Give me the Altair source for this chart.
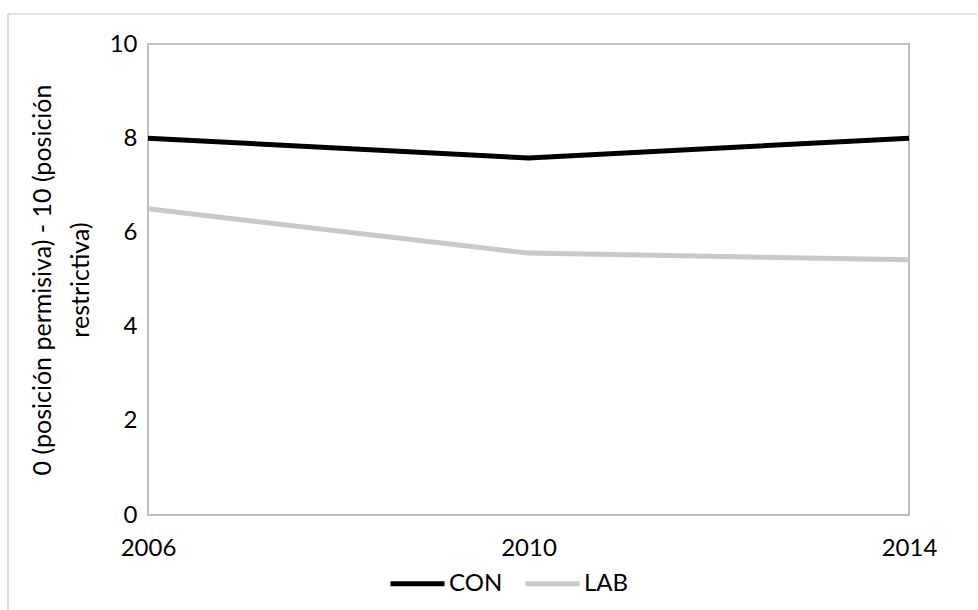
import altair as alt
import pandas as pd

years = ["2006", "2010", "2014"]
con_values = [8.0, 7.58, 8.0]
lab_values = [6.5, 5.56, 5.42]
series_names = ["CON", "LAB"]
series_colors = ["#000000", "#c9c9c9"]
y_ticks = [0, 2, 4, 6, 8, 10]
y_title = ["0 (posición permisiva) - 10 (posición", "restrictiva)"]

rows = []
for name, vals in zip(series_names, [con_values, lab_values]):
    for yr, v in zip(years, vals):
        rows.append({"year": yr, "value": v, "series": name})
df = pd.DataFrame(rows)

FONT = "Lato"

lines = alt.Chart(df).mark_line(strokeWidth=5, strokeJoin="miter", strokeCap="butt").encode(
    x=alt.X("year:O", sort=years,
            scale=alt.Scale(type="point", padding=0),
            axis=alt.Axis(title=None, labelAngle=0, ticks=False, domain=False,
                          labelFontSize=24, labelPadding=21, labelColor="#000000",
                          labelFont=FONT)),
    y=alt.Y("value:Q", scale=alt.Scale(domain=[0, 10]),
            axis=alt.Axis(values=y_ticks, title=y_title, grid=False, ticks=False,
                          domain=False, labelFontSize=24, labelPadding=11,
                          labelColor="#000000", labelFont=FONT,
                          titleFont=FONT, titleFontSize=25, titleFontWeight="normal",
                          titleColor="#000000", titlePadding=16, titleLineHeight=38)),
    color=alt.Color("series:N", sort=series_names,
                    scale=alt.Scale(domain=series_names, range=series_colors),
                    legend=alt.Legend(title=None, orient="none", direction="horizontal",
                                      legendX=240, legendY=510,
                                      symbolType="stroke", symbolSize=2916,
                                      symbolStrokeWidth=5, labelFontSize=24,
                                      labelFont=FONT, labelColor="#000000",
                                      labelOffset=2, columnPadding=12)),
)

one = pd.DataFrame({"a": [0]})
frame_left = alt.Chart(one).mark_rule(color="#d9d9d9", strokeWidth=2).encode(
    x=alt.value(-140), y=alt.value(-30), y2=alt.value(600))
frame_top = alt.Chart(one).mark_rule(color="#d9d9d9", strokeWidth=1.5).encode(
    x=alt.value(-140), x2=alt.value(829), y=alt.value(-30))

chart = alt.layer(frame_left, frame_top, lines).properties(
    width=761, height=471,
    autosize=alt.AutoSizeParams(type="none"),
    padding={"left": 148, "top": 44, "right": 69, "bottom": 95},
    background="#ffffff",
).configure_view(stroke="#bfbfbf", strokeWidth=2)

chart.save("out.html", embed_options={"renderer": "svg", "actions": False})
